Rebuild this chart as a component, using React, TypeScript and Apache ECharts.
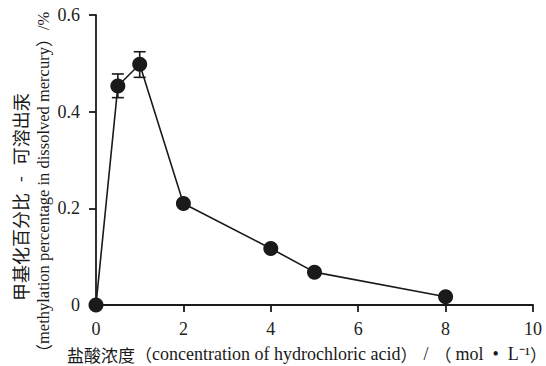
import React, { useEffect, useRef } from "react";
import * as echarts from "echarts";

const concentrations = [0, 0.5, 1, 2, 4, 5, 8];
const methylation = [0, 0.453, 0.498, 0.21, 0.117, 0.068, 0.017];
const errLow = [0, 0.429, 0.471, 0.205, 0.112, 0.063, 0.013];
const errHigh = [0, 0.478, 0.524, 0.216, 0.122, 0.073, 0.021];
const errShown = [false, true, true, false, false, false, false];

const xTitleCn = "盐酸浓度";
const xTitleEn = "concentration of hydrochloric acid";
const xUnitA = "mol";
const xUnitDot = "•";
const xUnitB = "L⁻¹";
const yTitleCn1 = "甲基化百分比";
const yTitleDash = "-";
const yTitleCn2 = "可溶出汞";
const yTitleEn = "methylation percentage in dissolved mercury";
const yUnit = "/%";

const SERIF = "Liberation Serif";
const CJK = "Noto Sans CJK SC";
const INK = "#1a1a1a";

export default function App() {
  const ref = useRef<HTMLDivElement>(null);
  useEffect(() => {
    if (!ref.current) return;
    const chart = echarts.init(ref.current, undefined, { renderer: "svg" });
    const lineData = concentrations.map((x, i) => [x, methylation[i]]);
    const errData = concentrations
      .map((x, i) => ({ x, lo: errLow[i], hi: errHigh[i], show: errShown[i] }))
      .filter((d) => d.show)
      .map((d) => [d.x, d.lo, d.hi]);
    const rich = {
      c: { fontFamily: CJK, fontSize: 17, fill: INK, color: INK },
      y: { fontFamily: CJK, fontSize: 18, fill: INK, color: INK },
      l: { fontFamily: SERIF, fontSize: 18, fill: INK, color: INK },
      s: { fontFamily: SERIF, fontSize: 16.5, fill: INK, color: INK },
      d: { fontFamily: SERIF, fontSize: 17, fill: INK, color: INK, padding: [0, 11, 0, 11] },
      p: { fontFamily: SERIF, fontSize: 18, fill: INK, color: INK, padding: [0, 6, 0, 6] },
      u: { fontFamily: SERIF, fontSize: 18, fill: INK, color: INK, padding: [0, 9, 0, 9] },
      m: { fontFamily: SERIF, fontSize: 18, fill: INK, color: INK, padding: [0, 0, 0, 4] },
    };
    chart.setOption({
      animation: false,
      textStyle: { fontFamily: SERIF },
      grid: { left: 96, right: 13, top: 15, bottom: 61, containLabel: false },
      xAxis: {
        type: "value",
        min: 0,
        max: 10,
        interval: 2,
        axisLine: { lineStyle: { color: INK, width: 1.8 } },
        axisTick: { inside: false, length: 7, lineStyle: { color: INK, width: 1.8 } },
        axisLabel: { color: "#222", fontSize: 18, fontFamily: SERIF, margin: 15 },
        splitLine: { show: false },
      },
      yAxis: {
        type: "value",
        min: 0,
        max: 0.6,
        interval: 0.2,
        axisLine: { show: true, lineStyle: { color: INK, width: 1.8 } },
        axisTick: { show: true, inside: false, length: 7, lineStyle: { color: INK, width: 1.8 } },
        axisLabel: {
          color: "#222",
          fontSize: 18,
          fontFamily: SERIF,
          margin: 16,
          formatter: (v: number) => (v === 0 ? "0" : v.toFixed(1)),
        },
        splitLine: { show: false },
      },
      series: [
        {
          type: "custom",
          data: errData,
          z: 3,
          renderItem: (params: any, api: any) => {
            const x = api.value(0);
            const lo = api.coord([x, api.value(1)]);
            const hi = api.coord([x, api.value(2)]);
            const w = 6;
            const st = { stroke: INK, lineWidth: 1.6 };
            return {
              type: "group",
              children: [
                { type: "line", shape: { x1: lo[0], y1: lo[1], x2: hi[0], y2: hi[1] }, style: st },
                { type: "line", shape: { x1: lo[0] - w, y1: lo[1], x2: lo[0] + w, y2: lo[1] }, style: st },
                { type: "line", shape: { x1: hi[0] - w, y1: hi[1], x2: hi[0] + w, y2: hi[1] }, style: st },
              ],
            };
          },
        },
        {
          type: "line",
          data: lineData,
          z: 4,
          symbol: "circle",
          symbolSize: 15,
          itemStyle: { color: INK },
          lineStyle: { color: INK, width: 1.6 },
        },
      ],
      graphic: [
        {
          type: "text",
          x: 67,
          y: 354,
          style: {
            text: `{c|${xTitleCn}（}{l|${xTitleEn}}{c|）}{p|/}{c|（}{m|${xUnitA}}{u|${xUnitDot}}{l|${xUnitB}}{c|）}`,
            rich,
            align: "left",
            verticalAlign: "middle",
          },
        },
        {
          type: "text",
          x: 20,
          y: 301,
          rotation: Math.PI / 2,
          style: {
            text: `{y|${yTitleCn1}}{d|${yTitleDash}}{y|${yTitleCn2}}`,
            rich,
            align: "left",
            verticalAlign: "middle",
          },
        },
        {
          type: "text",
          x: 43,
          y: 361,
          rotation: Math.PI / 2,
          style: {
            text: `{c|（}{s|${yTitleEn}}{c|）}{s|${yUnit}}`,
            rich,
            align: "left",
            verticalAlign: "middle",
          },
        },
      ],
    });
    return () => chart.dispose();
  }, []);
  return <div ref={ref} style={{ width: 546, height: 366, position: "absolute", left: 0, top: 0, background: "#fff" }} />;
}
